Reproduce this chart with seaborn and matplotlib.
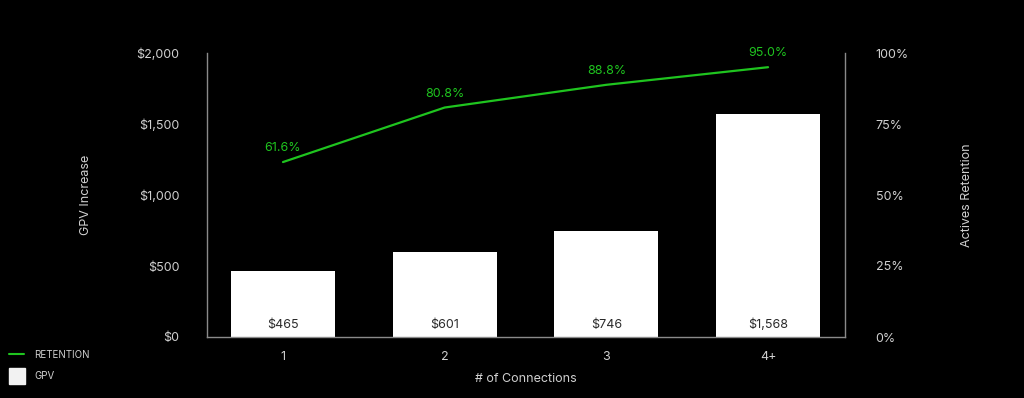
import matplotlib
matplotlib.use("Agg")
import matplotlib.pyplot as plt
from matplotlib.lines import Line2D
import seaborn as sns
import pandas as pd

categories = ["1", "2", "3", "4+"]
gpv_increase = [465, 601, 746, 1568]
retention = [61.6, 80.8, 88.8, 95.0]
gpv_ticks = [0, 500, 1000, 1500, 2000]
ret_ticks = [0, 25, 50, 75, 100]

BG = "#000000"
TXT = "#d0d0d0"
GREEN = "#1fc41f"
BAR = "#ffffff"
SPINE = "#8a8a8a"

sns.set_theme(style="dark")
plt.rcParams["font.family"] = ["Inter", "DejaVu Sans"]

df = pd.DataFrame({"conn": categories, "gpv": gpv_increase, "ret": retention})

fig = plt.figure(figsize=(10.24, 3.98), dpi=100, facecolor=BG)
ax = fig.add_axes([207/1024, 61/398, 638/1024, 284/398])
ax.set_facecolor(BG)

XLIM = (-0.47, 3.476)

sns.barplot(data=df, x="conn", y="gpv", color=BAR, width=0.645, saturation=1,
            edgecolor="none", ax=ax)
ax.set_ylim(0, 2000)
ax.set_xlim(*XLIM)
ax.set_yticks(gpv_ticks)
ax.set_yticklabels([f"${v:,}" for v in gpv_ticks])
ax.tick_params(axis="y", length=0, pad=20, labelsize=9, colors=TXT)
ax.tick_params(axis="x", length=0, pad=10, labelsize=9, colors=TXT)
ax.set_xlabel("# of Connections", color=TXT, fontsize=9, labelpad=7)
ax.set_ylabel("GPV Increase", color=TXT, fontsize=9, labelpad=32)
ax.grid(False)
for side in ["left", "bottom", "right"]:
    ax.spines[side].set_visible(True)
    ax.spines[side].set_color(SPINE)
    ax.spines[side].set_linewidth(1)
ax.spines["top"].set_visible(False)

for i, v in enumerate(gpv_increase):
    ax.annotate(f"${v:,}", xy=(i, 0), xytext=(0, 12), textcoords="offset pixels",
                ha="center", va="center", fontsize=9, color="#2a2a2a")

ax2 = ax.twinx()
sns.pointplot(data=df, x="conn", y="ret", color=GREEN, marker="", linewidth=1.6,
              ax=ax2)
ax2.set_ylim(0, 100)
ax2.set_xlim(*XLIM)
ax2.set_yticks(ret_ticks)
ax2.set_yticklabels([f"{v}%" for v in ret_ticks])
ax2.tick_params(axis="y", length=0, pad=22, labelsize=9, colors=TXT)
ax2.set_ylabel("Actives Retention", color=TXT, fontsize=9, labelpad=38, rotation=90)
ax2.grid(False)
for side in ["left", "bottom", "right", "top"]:
    ax2.spines[side].set_visible(False)
ax2.set_xlabel("")

for i, v in enumerate(retention):
    ax2.annotate(f"{v:.1f}%", xy=(i, v), xytext=(0, 14), textcoords="offset pixels",
                 ha="center", va="center", fontsize=9, color=GREEN)

handles = [
    Line2D([0], [0], color=GREEN, lw=1.5, label="RETENTION"),
    Line2D([0], [0], color="#f2f2f2", lw=0, marker="s", markersize=11, label="GPV"),
]
leg = fig.legend(handles=handles, loc="lower left", bbox_to_anchor=(0.0, 0.02),
                 frameon=False, fontsize=7, labelcolor=TXT, handlelength=1.6,
                 handletextpad=1.0, labelspacing=1.2)

fig.savefig("out.png", dpi=100, facecolor=BG)
